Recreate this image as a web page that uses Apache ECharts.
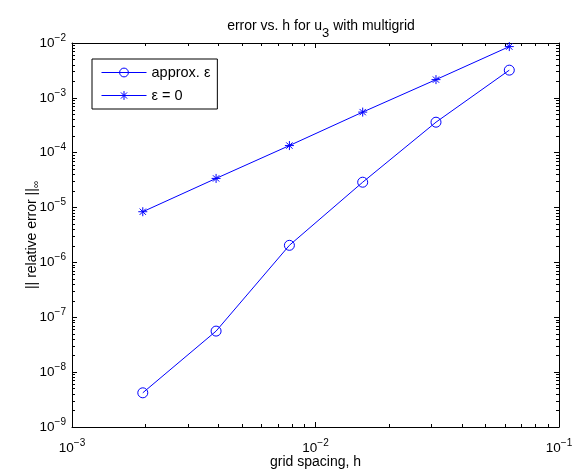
<!DOCTYPE html>
<html>
<head>
<meta charset="utf-8">
<script src="https://cdn.jsdelivr.net/npm/echarts@6/dist/echarts.min.js"></script>
<style>
  html, body { margin: 0; padding: 0; background: #fff; }
  #chart { width: 573px; height: 472px; }
</style>
</head>
<body>
<div id="chart"></div>
<script>
// grid spacing h = 1/512 ... 1/16
const hValues = [1 / 512, 1 / 256, 1 / 128, 1 / 64, 1 / 32, 1 / 16]
// || relative error ||_inf
const errApprox = [4.2e-9, 5.6e-8, 2.05e-6, 2.9e-5, 3.6e-4, 3.2e-3]
const errZero = [8.4e-6, 3.4e-5, 1.35e-4, 5.5e-4, 2.15e-3, 8.6e-3]
const seriesNames = ['approx. \u03b5', '\u03b5 = 0']

const xDecades = [1e-3, 1e-2, 1e-1]
const yDecades = [1e-9, 1e-8, 1e-7, 1e-6, 1e-5, 1e-4, 1e-3, 1e-2]

const blue = '#0000ff'
const font = 'Liberation Sans, Arial, Helvetica, sans-serif'

// minor ticks 2..9 in every decade
function minorTicks(decades) {
  const out = []
  for (let i = 0; i < decades.length - 1; i++) {
    for (let k = 2; k <= 9; k++) out.push(decades[i] * k)
  }
  return out
}

function expLabel(v) {
  const e = Math.round(Math.log10(v))
  return '{b|10}{s|\u2212' + Math.abs(e) + '}'
}

const labelRich = {
  b: { fontSize: 13.5, fontFamily: font, color: '#000' },
  s: { fontSize: 10, fontFamily: font, color: '#000', padding: [0, 0, 10, 0] }
}

// one axis layer: major or minor ticks, on one side
function logAxis(dim, pos, ticks, len, withLine, withLabel) {
  const ax = {
    type: 'log',
    logBase: 10,
    position: pos,
    min: dim === 'x' ? xDecades[0] : yDecades[0],
    max: dim === 'x' ? xDecades[xDecades.length - 1] : yDecades[yDecades.length - 1],
    nameMoveOverlap: false,
    axisLine: { show: withLine, onZero: false, lineStyle: { color: '#000', width: 1 } },
    axisTick: { show: true, inside: true, length: len, customValues: ticks, lineStyle: { color: '#000', width: 1 } },
    axisLabel: { show: false },
    splitLine: { show: false },
    minorTick: { show: false }
  }
  if (withLabel) {
    ax.axisLabel = {
      show: true,
      customValues: ticks,
      formatter: expLabel,
      rich: labelRich,
      margin: dim === 'x' ? 11 : 6
    }
  }
  return ax
}

const chart = echarts.init(document.getElementById('chart'))

chart.setOption({
  animation: false,
  backgroundColor: '#fff',
  title: {
    text: '{a|error vs. h for u}{sub|3}{a| with multigrid}',
    left: 316,
    top: 8,
    textAlign: 'center',
    textStyle: {
      fontWeight: 'normal',
      rich: {
        a: { fontSize: 14, fontWeight: 'normal', fontFamily: font, color: '#000' },
        sub: { fontSize: 13, fontWeight: 'normal', fontFamily: font, color: '#000', padding: [14, 0, 0, 0] }
      }
    }
  },
  legend: {
    orient: 'vertical',
    left: 92,
    top: 59,
    padding: [6, 7, 6, 9],
    itemWidth: 45,
    itemHeight: 11,
    itemGap: 8,
    borderColor: '#000',
    borderWidth: 1,
    backgroundColor: '#fff',
    lineStyle: { width: 1 },
    itemStyle: { borderWidth: 1 },
    textStyle: { fontSize: 14.5, fontFamily: font, color: '#000' },
    data: seriesNames
  },
  grid: { left: 72, right: 14, top: 43, bottom: 45, outerBoundsMode: 'none', containLabel: false },
  xAxis: [
    Object.assign(logAxis('x', 'bottom', xDecades, 5, true, true), {
      name: 'grid spacing, h',
      nameLocation: 'middle',
      nameGap: 28,
      nameTextStyle: { fontSize: 14, fontFamily: font, color: '#000' }
    }),
    logAxis('x', 'bottom', minorTicks(xDecades), 3, false, false),
    logAxis('x', 'top', xDecades, 5, true, false),
    logAxis('x', 'top', minorTicks(xDecades), 3, false, false)
  ],
  yAxis: [
    Object.assign(logAxis('y', 'left', yDecades, 5, true, true), {
      name: '{a||| relative error ||}{sub|\u221e}',
      nameLocation: 'middle',
      nameGap: 31,
      nameTextStyle: {
        rich: {
          a: { fontSize: 14, fontFamily: font, color: '#000' },
          sub: { fontSize: 10, fontFamily: font, color: '#000', padding: [8, 0, 0, 0] }
        }
      }
    }),
    logAxis('y', 'left', minorTicks(yDecades), 3, false, false),
    logAxis('y', 'right', yDecades, 5, true, false),
    logAxis('y', 'right', minorTicks(yDecades), 3, false, false)
  ],
  series: [
    {
      name: seriesNames[0],
      type: 'line',
      data: hValues.map((h, i) => [h, errApprox[i]]),
      symbol: 'circle',
      symbolSize: 10,
      showAllSymbol: true,
      lineStyle: { color: blue, width: 1 },
      itemStyle: { color: 'rgba(0,0,0,0)', borderColor: blue, borderWidth: 1 },
      emphasis: { disabled: true }
    },
    {
      name: seriesNames[1],
      type: 'line',
      data: hValues.map((h, i) => [h, errZero[i]]),
      symbol: 'path://M0,-10L0,10M-10,0L10,0M-7,-7L7,7M-7,7L7,-7',
      symbolSize: 9,
      showAllSymbol: true,
      lineStyle: { color: blue, width: 1 },
      itemStyle: { color: blue, borderColor: blue, borderWidth: 1 },
      emphasis: { disabled: true }
    }
  ]
})
</script>
</body>
</html>
